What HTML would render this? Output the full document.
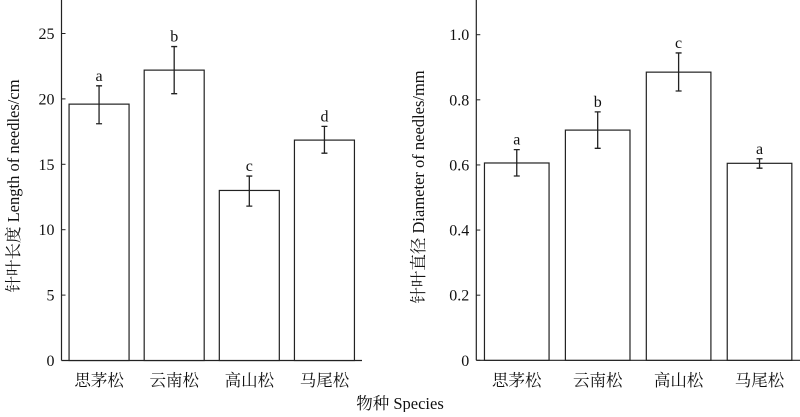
<!DOCTYPE html>
<html><head><meta charset="utf-8"><style>
body{margin:0;background:#fff}
svg text{font-family:"Liberation Serif","Noto Serif CJK SC",serif;fill:#111}
</style></head><body>
<svg id="c" width="800" height="412" viewBox="0 0 800 412"></svg>
<script>
const categories=["思茅松","云南松","高山松","马尾松"];
const lenValues=[19.6,22.2,13.0,16.85];
const lenErrHi=[21.0,24.0,14.1,17.9];
const lenErrLo=[18.1,20.4,11.8,15.85];
const lenLetters=["a","b","c","d"];
const lenTicks=[0,5,10,15,20,25];
const diaValues=[0.606,0.707,0.885,0.605];
const diaErrHi=[0.647,0.763,0.944,0.619];
const diaErrLo=[0.566,0.651,0.827,0.590];
const diaLetters=["a","b","c","a"];
const diaTicks=[0,0.2,0.4,0.6,0.8,1.0];
const diaTickLabels=["0","0.2","0.4","0.6","0.8","1.0"];
const svg=document.getElementById('c');
const NS="http://www.w3.org/2000/svg";
function mk(tag,attrs,parent){const e=document.createElementNS(NS,tag);for(const k in attrs)e.setAttribute(k,attrs[k]);(parent||svg).appendChild(e);return e;}
function panel(o){
  const g=mk('g',{});
  
  
  const y=v=>o.y0-(v/o.max)*(o.y0-o.yTop);
  const band=(o.x1-o.x0)/categories.length;
  const xc=i=>o.x0+band*(i+0.5);
  const ya=mk('line',{x1:o.x0,y1:0,x2:o.x0,y2:o.y0,stroke:'#222','stroke-width':1.2},g);
  
  
  const xa=mk('line',{x1:o.x0,y1:o.y0,x2:o.x1,y2:o.y0,stroke:'#222','stroke-width':1.2},g);
  
  
  o.ticks.forEach((t,i)=>{
    const tk=mk('line',{x1:o.x0,y1:y(t),x2:o.x0+4,y2:y(t),stroke:'#222','stroke-width':1},g);
    
    
    const tl=mk('text',{x:o.x0-7,y:y(t)+5.5,'text-anchor':'end','font-size':16},g);
    tl.textContent=o.tickLabels[i];
    
    
  });
  categories.forEach((c,i)=>{
    const cx=xc(i),top=y(o.vals[i]);
    const r=mk('rect',{x:cx-o.bw/2,y:top,width:o.bw,height:o.y0-top,fill:'#fff',stroke:'#222','stroke-width':1.2},g);
    
    
    const hi=y(o.hi[i]),lo=y(o.lo[i]);
    const eb=mk('path',{d:`M${cx},${hi}V${lo}M${cx-3},${hi}H${cx+3}M${cx-3},${lo}H${cx+3}`,stroke:'#222','stroke-width':1.3,fill:'none'},g);
    
    
    const lt=mk('text',{x:cx,y:hi-5,'text-anchor':'middle','font-size':16},g);
    lt.textContent=o.letters[i];
    
    
    const cl=mk('text',{x:cx,y:386,'text-anchor':'middle','font-size':16.5},g);
    cl.textContent=c;
    
    
  });
  const yt=mk('text',{x:0,y:0,'text-anchor':'middle','font-size':16.5,transform:`translate(${o.titleX},${o.titleY}) rotate(-90)`},g);
  yt.textContent=o.title;
  
  
}
panel({name:'length-chart',x0:61.5,x1:362,y0:360.5,yTop:33.5,max:25,bw:60,vals:lenValues,hi:lenErrHi,lo:lenErrLo,letters:lenLetters,ticks:lenTicks,tickLabels:lenTicks.map(String),title:'针叶长度 Length of needles/cm',titleX:19,titleY:186});
panel({name:'diameter-chart',x0:476.3,x1:800,y0:360.3,yTop:34.7,max:1.0,bw:64.6,vals:diaValues,hi:diaErrHi,lo:diaErrLo,letters:diaLetters,ticks:diaTicks,tickLabels:diaTickLabels,title:'针叶直径 Diameter of needles/mm',titleX:424,titleY:187});
const xt=mk('text',{x:400,y:409,'text-anchor':'middle','font-size':16.5});
xt.textContent='物种 Species';


</script>
</body></html>
